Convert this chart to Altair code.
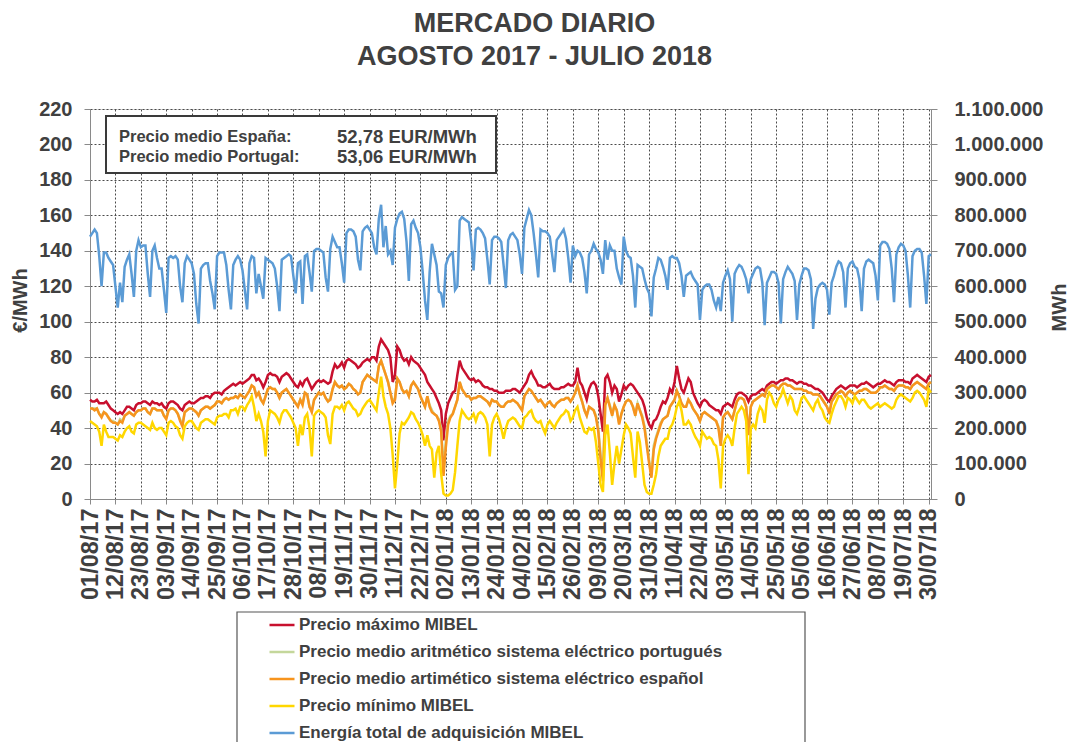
import altair as alt
import pandas as pd

# ---------------- data ----------------
TITLE = ["MERCADO DIARIO", "AGOSTO 2017 - JULIO 2018"]
FIRST_DAY = "2017-08-01"
TICK_LABELS = ["01/08/17", "12/08/17", "23/08/17", "03/09/17", "14/09/17", "25/09/17",
               "06/10/17", "17/10/17", "28/10/17", "08/11/17", "19/11/17", "30/11/17",
               "11/12/17", "22/12/17", "02/01/18", "13/01/18", "24/01/18", "04/02/18",
               "15/02/18", "26/02/18", "09/03/18", "20/03/18", "31/03/18", "11/04/18",
               "22/04/18", "03/05/18", "14/05/18", "25/05/18", "05/06/18", "16/06/18",
               "27/06/18", "08/07/18", "19/07/18", "30/07/18"]
SERIES = ["Precio máximo MIBEL",
          "Precio medio aritmético sistema eléctrico portugués",
          "Precio medio artimético sistema eléctrico español",
          "Precio mínimo MIBEL",
          "Energía total de adquisición MIBEL"]
COLORS = ["#C8102E", "#C4D79B", "#F7941D", "#FFD700", "#5B9BD5"]
BOX_LABELS = ["Precio medio España:", "Precio medio Portugal:"]
BOX_VALUES = ["52,78 EUR/MWh", "53,06 EUR/MWh"]
PRICE_TICKS = [0, 20, 40, 60, 80, 100, 120, 140, 160, 180, 200, 220]
ENERGY_TICKS = [0, 100000, 200000, 300000, 400000, 500000, 600000,
                700000, 800000, 900000, 1000000, 1100000]

# daily values, 01/08/2017 (Tue) .. 31/07/2018; rows are weeks Mon..Sun
precio_maximo = [
    56, 55, 55, 56, 54, 54,
    54, 55, 53, 51, 50, 49, 48,
    49, 48, 50, 52, 52, 51, 50,
    53, 54, 54, 55, 55, 54, 53,
    55, 54, 54, 53, 54, 52, 51,
    54, 55, 55, 54, 53, 51, 50,
    53, 54, 55, 54, 54, 55, 56,
    57, 57, 58, 58, 57, 59, 60,
    60, 60, 59, 61, 62, 63, 64,
    65, 64, 65, 66, 65, 66, 67,
    68, 70, 70, 67, 68, 66, 63,
    66, 70, 71, 70, 70, 69, 66,
    69, 70, 71, 70, 68, 66, 64,
    63, 66, 64, 67, 68, 65, 62,
    64, 66, 67, 66, 67, 66, 65,
    66, 72, 76, 74, 75, 77, 74,
    78, 79, 78, 77, 76, 74, 75,
    77, 78, 79, 78, 80, 80, 78,
    86, 90, 88, 86, 84, 80, 66,
    70, 86, 84, 80, 78, 79, 76,
    80, 78, 77, 76, 74, 72, 70,
    66, 64, 62, 60, 57, 54, 50,
    33, 48, 54, 57, 60, 61, 70,
    78, 74, 72, 70, 68, 67, 68,
    66, 67, 66, 64, 63, 63, 62,
    62, 61, 61, 60, 60, 60, 61,
    61, 61, 62, 62, 61, 60, 62,
    64, 66, 70, 72, 69, 67, 64,
    64, 63, 63, 64, 65, 63, 62,
    62, 62, 63, 63, 64, 65, 64,
    64, 66, 74, 66, 64, 60, 56,
    62, 65, 66, 64, 58, 48, 38,
    68, 70, 66, 60, 64, 62, 55,
    59, 64, 62, 64, 65, 64, 62,
    60, 58, 56, 52, 46, 42, 40,
    44, 45, 48, 52, 55, 54, 57,
    62, 60, 66, 75, 68, 62, 60,
    64, 68, 66, 60, 57, 54, 52,
    55, 56, 55, 53, 52, 51, 50,
    50, 48, 52, 53, 54, 53, 52,
    56, 59, 60, 60, 59, 58, 55,
    58, 59, 59, 60, 61, 62, 61,
    64, 65, 66, 66, 65, 66, 67,
    67, 68, 68, 67, 67, 66, 65,
    66, 66, 65, 65, 64, 64, 63,
    62, 62, 61, 60, 58, 56, 55,
    58, 60, 62, 63, 64, 63, 62,
    63, 64, 64, 64, 63, 64, 65,
    65, 66, 65, 64, 63, 64, 65,
    65, 66, 67, 66, 66, 65, 64,
    66, 67, 67, 67, 66, 66, 65,
    68, 69, 70, 69, 68, 67, 66,
    69, 70]

precio_portugal = [
    51, 51, 51, 51, 48, 47,
    49, 48, 46, 44, 44, 43, 42,
    45, 44, 47, 48, 49, 48, 47,
    49, 50, 50, 51, 51, 49, 48,
    51, 51, 50, 50, 50, 47, 46,
    50, 51, 51, 50, 48, 45, 42,
    49, 50, 51, 51, 50, 49, 47,
    50, 51, 52, 52, 51, 52, 53,
    55, 55, 54, 56, 57, 56, 57,
    57, 58, 57, 59, 58, 57, 59,
    61, 64, 63, 59, 60, 56, 54,
    58, 62, 63, 62, 62, 60, 57,
    60, 61, 62, 60, 58, 56, 54,
    53, 56, 54, 60, 59, 52, 50,
    56, 58, 60, 59, 60, 57, 55,
    57, 62, 66, 64, 63, 64, 62,
    63, 65, 64, 62, 61, 59, 60,
    66, 68, 70, 69, 68, 67, 66,
    75, 78, 74, 70, 66, 60, 55,
    57, 68, 66, 62, 60, 61, 58,
    64, 66, 64, 62, 58, 55, 52,
    58, 53, 50, 48, 47, 45, 40,
    16, 33, 44, 47, 48, 52, 56,
    66, 62, 60, 58, 58, 56, 57,
    57, 58, 58, 57, 56, 55, 53,
    56, 55, 55, 53, 52, 52, 54,
    55, 55, 56, 55, 54, 52, 50,
    58, 60, 62, 61, 59, 57, 55,
    56, 54, 52, 54, 55, 53, 52,
    54, 55, 56, 56, 57, 57, 55,
    57, 60, 64, 59, 55, 50, 47,
    52, 51, 50, 47, 40, 25, 13,
    53, 57, 53, 48, 53, 50, 43,
    48, 52, 55, 56, 55, 52, 48,
    54, 50, 47, 41, 32, 22, 14,
    30, 35, 39, 43, 45, 46, 47,
    52, 54, 56, 61, 58, 54, 52,
    52, 56, 54, 51, 49, 47, 44,
    48, 49, 48, 47, 46, 45, 44,
    41, 32, 46, 48, 49, 47, 45,
    50, 55, 57, 57, 56, 52, 38,
    52, 55, 56, 57, 58, 59, 58,
    62, 63, 64, 64, 63, 62, 64,
    65, 65, 64, 64, 63, 62, 62,
    62, 62, 61, 61, 60, 60, 59,
    59, 59, 58, 56, 54, 52, 49,
    55, 57, 59, 60, 61, 60, 58,
    60, 61, 60, 59, 60, 61, 61,
    62, 62, 61, 60, 60, 60, 61,
    63, 63, 64, 63, 62, 62, 61,
    63, 64, 64, 64, 63, 63, 62,
    64, 65, 66, 65, 64, 63, 62,
    65, 66]

precio_espana = [
    51, 51, 50, 51, 48, 46,
    49, 48, 46, 44, 43, 43, 42,
    44, 43, 47, 48, 49, 48, 47,
    49, 50, 50, 51, 51, 49, 48,
    51, 51, 50, 50, 50, 47, 45,
    50, 51, 51, 50, 48, 44, 41,
    49, 50, 51, 51, 50, 49, 47,
    50, 51, 52, 52, 51, 52, 53,
    55, 55, 54, 56, 57, 56, 57,
    57, 58, 57, 59, 58, 57, 59,
    61, 64, 63, 58, 60, 56, 54,
    58, 62, 63, 62, 62, 60, 57,
    60, 61, 62, 60, 58, 56, 54,
    52, 56, 53, 60, 59, 52, 49,
    56, 58, 60, 59, 60, 57, 55,
    56, 62, 66, 64, 63, 64, 62,
    63, 65, 64, 62, 61, 59, 60,
    66, 68, 70, 69, 68, 67, 66,
    75, 78, 74, 70, 66, 60, 54,
    56, 68, 66, 62, 60, 61, 58,
    64, 66, 64, 62, 58, 55, 52,
    58, 52, 49, 48, 47, 44, 38,
    13, 29, 42, 46, 48, 52, 56,
    66, 62, 60, 58, 58, 56, 57,
    57, 58, 58, 57, 56, 55, 53,
    56, 55, 55, 53, 52, 52, 54,
    55, 55, 56, 55, 54, 52, 50,
    58, 60, 62, 61, 59, 57, 55,
    56, 54, 52, 54, 55, 53, 52,
    54, 55, 56, 56, 57, 57, 55,
    57, 60, 64, 59, 55, 50, 47,
    52, 51, 50, 46, 38, 22, 10,
    53, 57, 52, 47, 53, 50, 42,
    48, 52, 55, 56, 55, 52, 47,
    54, 50, 46, 40, 30, 20, 12,
    28, 34, 38, 42, 45, 46, 47,
    52, 54, 56, 61, 58, 54, 52,
    52, 56, 54, 51, 49, 47, 44,
    48, 49, 48, 47, 46, 45, 44,
    40, 30, 46, 48, 49, 47, 45,
    50, 55, 57, 57, 56, 52, 36,
    52, 55, 56, 57, 58, 59, 58,
    62, 63, 64, 64, 63, 62, 64,
    65, 65, 64, 64, 63, 62, 62,
    62, 62, 61, 61, 60, 60, 59,
    59, 59, 58, 56, 54, 52, 48,
    55, 57, 59, 60, 61, 60, 58,
    60, 61, 60, 59, 60, 61, 61,
    62, 62, 61, 60, 60, 60, 61,
    63, 63, 64, 63, 62, 62, 61,
    63, 64, 64, 64, 63, 63, 62,
    64, 65, 66, 65, 64, 63, 62,
    65, 66]

precio_minimo = [
    44, 43, 42, 41, 38, 30,
    42, 38, 35, 35, 35, 34, 33,
    36, 35, 38, 40, 41, 38, 37,
    42, 43, 43, 42, 41, 40, 39,
    43, 40, 39, 40, 40, 38, 36,
    43, 44, 43, 41, 40, 36, 34,
    41, 43, 44, 44, 42, 40, 39,
    43, 44, 45, 45, 44, 43, 42,
    46, 47, 47, 48, 48, 46, 50,
    50, 51, 48, 52, 52, 50, 53,
    55, 58, 52, 44, 48, 44, 38,
    24, 44, 50, 49, 48, 46, 43,
    48, 50, 50, 48, 46, 43, 40,
    30, 42, 36, 46, 48, 40, 24,
    47, 49, 50, 49, 48, 46, 36,
    31, 48, 52, 52, 51, 53, 50,
    54, 55, 53, 51, 50, 47, 48,
    51, 53, 55, 56, 54, 52, 50,
    60, 69, 58, 52, 48, 40, 25,
    6, 20, 37, 43, 42, 44, 46,
    49, 48, 45, 43, 40, 36, 30,
    36, 30, 28, 12, 26, 30, 14,
    3, 2, 2, 3, 5, 15, 30,
    44, 50, 48, 46, 45, 46, 48,
    44, 48, 49, 48, 46, 42, 24,
    42, 46, 48, 45, 40, 34, 40,
    44, 45, 46, 45, 43, 41, 40,
    46, 47, 49, 50, 46, 44, 43,
    44, 40, 37, 42, 44, 42, 40,
    43, 45, 47, 48, 50, 49, 44,
    46, 50, 52, 46, 42, 38, 37,
    40, 39, 40, 32, 20, 8, 4,
    36, 42, 26, 8, 20, 30, 20,
    28, 36, 42, 40, 37, 24, 12,
    38, 32, 20, 8, 4, 3, 3,
    8, 14, 24, 30, 32, 34, 34,
    40, 42, 46, 52, 55, 50, 42,
    42, 44, 42, 38, 35, 33, 30,
    38, 36, 34, 35, 34, 31, 30,
    22, 6, 30, 34, 36, 34, 30,
    40, 48, 50, 52, 50, 44, 14,
    40, 42, 40, 48, 52, 50, 43,
    56, 60, 58, 54, 52, 56, 58,
    62, 58, 54, 58, 56, 50, 48,
    52, 57, 58, 56, 54, 52, 50,
    54, 56, 52, 50, 46, 44, 43,
    48, 52, 55, 58, 58, 56, 52,
    57, 56, 54, 58, 56, 54, 56,
    56, 54, 52, 51, 52, 53, 54,
    52, 53, 54, 53, 52, 51, 52,
    56, 58, 59, 58, 57, 56, 55,
    57, 60, 61, 60, 58, 56, 52,
    62, 60]

# thousands of MWh
energia_miles_mwh = [
    740, 750, 760, 750, 685, 600,
    695, 695, 680, 670, 660, 600, 540,
    610, 555, 655, 675, 690, 635, 570,
    700, 730, 710, 715, 715, 635, 570,
    700, 715, 680, 650, 650, 590, 525,
    680, 685, 680, 685, 675, 600, 555,
    665, 685, 675, 665, 635, 550, 495,
    650, 660, 665, 665, 615, 580, 535,
    685, 695, 695, 695, 660, 590, 535,
    660, 675, 685, 675, 645, 590, 535,
    665, 685, 680, 580, 635, 600, 565,
    680, 675, 670, 665, 650, 600, 530,
    675, 680, 685, 690, 685, 630, 580,
    665, 670, 550, 685, 690, 640, 585,
    700, 705, 705, 700, 695, 625, 585,
    705, 740, 725, 710, 710, 665, 610,
    750, 760, 760, 755, 740, 675, 645,
    755, 765, 770, 760, 750, 710, 690,
    790, 830, 710, 770, 690, 700, 660,
    765, 790, 805, 810, 790, 725, 615,
    775, 785, 765, 750, 710, 640, 560,
    505, 640, 720, 690, 660, 585, 580,
    540, 660, 680, 690, 695, 590, 600,
    785, 795, 790, 785, 780, 725, 645,
    760, 765, 760, 750, 735, 675, 605,
    730, 740, 740, 735, 725, 660, 595,
    730, 745, 750, 740, 730, 690, 635,
    765, 790, 815, 800, 750, 690, 625,
    760, 755, 755, 750, 740, 690, 640,
    730, 740, 750, 760, 735, 680, 610,
    715, 685, 700, 695, 680, 640, 580,
    690, 700, 720, 705, 695, 675, 635,
    730, 675, 715, 700, 700, 650, 625,
    605, 740, 700, 685, 680, 630, 540,
    660, 655, 650, 620, 595, 580, 515,
    625, 650, 680, 675, 655, 630, 590,
    680, 685, 680, 680, 665, 630, 570,
    630, 635, 640, 625, 615, 605, 505,
    590, 600, 605, 605, 590, 560, 540,
    570, 530, 610, 630, 645, 620, 500,
    635, 650, 660, 655, 640, 620, 580,
    620, 635, 650, 655, 650, 610, 490,
    610, 625, 640, 640, 635, 610, 495,
    620, 640, 655, 645, 635, 615, 505,
    605, 630, 650, 650, 645, 620, 480,
    565, 595, 605, 610, 605, 590, 520,
    610, 630, 655, 670, 665, 640, 540,
    650, 665, 670, 655, 650, 620, 530,
    650, 670, 675, 670, 665, 630, 560,
    715, 725, 725, 720, 705, 650, 555,
    690, 710, 720, 715, 700, 630, 540,
    685, 700, 705, 705, 695, 630, 550,
    685, 690]

# ---------------- tables ----------------
n_days = len(precio_maximo)
fechas = pd.date_range(FIRST_DAY, periods=n_days, freq="D").strftime("%d/%m/%y")
dias = list(range(n_days))

price_cols = [precio_maximo, precio_portugal, precio_espana, precio_minimo]
price_frames = {}
for name, vals in zip(SERIES[:4], price_cols):
    price_frames[name] = pd.DataFrame({"dia": dias, "fecha": fechas, "valor": vals, "serie": name})
energy_df = pd.DataFrame({"dia": dias, "fecha": fechas,
                          "energia": [v * 1000 for v in energia_miles_mwh],
                          "serie": SERIES[4]})

tick_days = [11 * i for i in range(len(TICK_LABELS))]
label_expr = "[" + ",".join("'" + t + "'" for t in TICK_LABELS) + "][round(datum.value / 11)]"

FONT = "Liberation Sans"
TXT = "#404040"
AXC = "#8a8a8a"
GRID = "#4a4a4a"

x_enc = alt.X("dia:Q",
              scale=alt.Scale(domain=[0, n_days - 1], nice=False, zero=False),
              axis=alt.Axis(values=tick_days, labelExpr=label_expr, labelAngle=270,
                            labelFont=FONT, labelFontSize=23.5, labelFontWeight="bold",
                            labelColor=TXT, labelPadding=4, labelOverlap=False,
                            labelFlush=False, tickSize=5, tickColor=AXC,
                            domainColor=AXC, grid=True, gridColor=GRID,
                            gridDash=[2, 2], gridWidth=1, title=None))

legend = alt.Legend(orient="none", legendX=178, legendY=502, title=None,
                    symbolType="stroke", symbolSize=625, symbolStrokeWidth=2.5,
                    labelFont=FONT, labelFontSize=17, labelFontWeight="bold",
                    labelColor=TXT, labelLimit=800, rowPadding=5, labelOffset=3,
                    padding=0)
color_enc = alt.Color("serie:N", scale=alt.Scale(domain=SERIES, range=COLORS), legend=legend)

y_price = alt.Y("valor:Q",
                scale=alt.Scale(domain=[0, 220], nice=False, zero=True),
                axis=alt.Axis(values=PRICE_TICKS, labelFont=FONT, labelFontSize=20,
                              labelFontWeight="bold", labelColor=TXT, labelPadding=12,
                              tickSize=6, tickColor=AXC, domainColor=AXC,
                              grid=True, gridColor=GRID, gridDash=[2, 2], gridWidth=1,
                              title="€/MWh", titleFont=FONT, titleFontSize=20,
                              titleFontWeight="bold", titleColor=TXT, titleAngle=270,
                              titleX=-70, titleY=191, titleAlign="center",
                              titleBaseline="middle"))

price_layers = []
for name in SERIES[:4]:
    price_layers.append(
        alt.Chart(price_frames[name]).mark_line(strokeWidth=2.5).encode(
            x=x_enc, y=y_price, color=color_enc))
prices = alt.layer(*price_layers)

energy_axis = alt.Axis(orient="right", values=ENERGY_TICKS,
                       labelExpr="replace(format(datum.value, ','), regexp(',', 'g'), '.')",
                       labelFont=FONT, labelFontSize=20, labelFontWeight="bold",
                       labelColor=TXT, labelPadding=17, tickSize=6, tickColor=AXC,
                       domainColor=AXC, grid=False,
                       title="MWh", titleFont=FONT, titleFontSize=20,
                       titleFontWeight="bold", titleColor=TXT, titleAngle=270,
                       titleX=128, titleY=198, titleAlign="center", titleBaseline="middle")
energy = alt.Chart(energy_df).mark_line(strokeWidth=2.5).encode(
    x=x_enc,
    y=alt.Y("energia:Q", scale=alt.Scale(domain=[0, 1100000], nice=False), axis=energy_axis),
    color=color_enc)

one = pd.DataFrame({"k": [0]})
box = alt.Chart(one).mark_rect(fill="white", stroke="#3a3a3a", strokeWidth=2).encode(
    x=alt.value(16), x2=alt.value(406), y=alt.value(7), y2=alt.value(64))
box_text = []
for i in range(2):
    box_text.append(alt.Chart(one).mark_text(
        align="left", baseline="middle", font=FONT, fontSize=16.5, fontWeight="bold",
        color=TXT).encode(x=alt.value(29), y=alt.value(28 + 20 * i),
                          text=alt.value(BOX_LABELS[i])))
    box_text.append(alt.Chart(one).mark_text(
        align="left", baseline="middle", font=FONT, fontSize=18.5, fontWeight="bold",
        color=TXT).encode(x=alt.value(247), y=alt.value(28 + 20 * i),
                          text=alt.value(BOX_VALUES[i])))

legend_box = alt.Chart(one).mark_rect(fill="white", stroke="#555555", strokeWidth=1.2).encode(
    x=alt.value(147), x2=alt.value(715), y=alt.value(503), y2=alt.value(680))

chart = alt.layer(legend_box, prices, energy, box, *box_text).resolve_scale(
    y="independent"
).properties(
    width=841, height=390,
    title=alt.TitleParams(text=TITLE, font=FONT, fontSize=27, fontWeight="bold",
                          color=TXT, anchor="middle", frame="group", dx=24,
                          baseline="alphabetic", offset=7, lineHeight=33),
    autosize=alt.AutoSizeParams(type="none"),
    padding={"left": 82, "top": 101, "right": 139, "bottom": 243},
).configure_view(stroke=None).configure(background="white")

chart.save("out.html", embed_options={"renderer": "svg", "actions": False})
